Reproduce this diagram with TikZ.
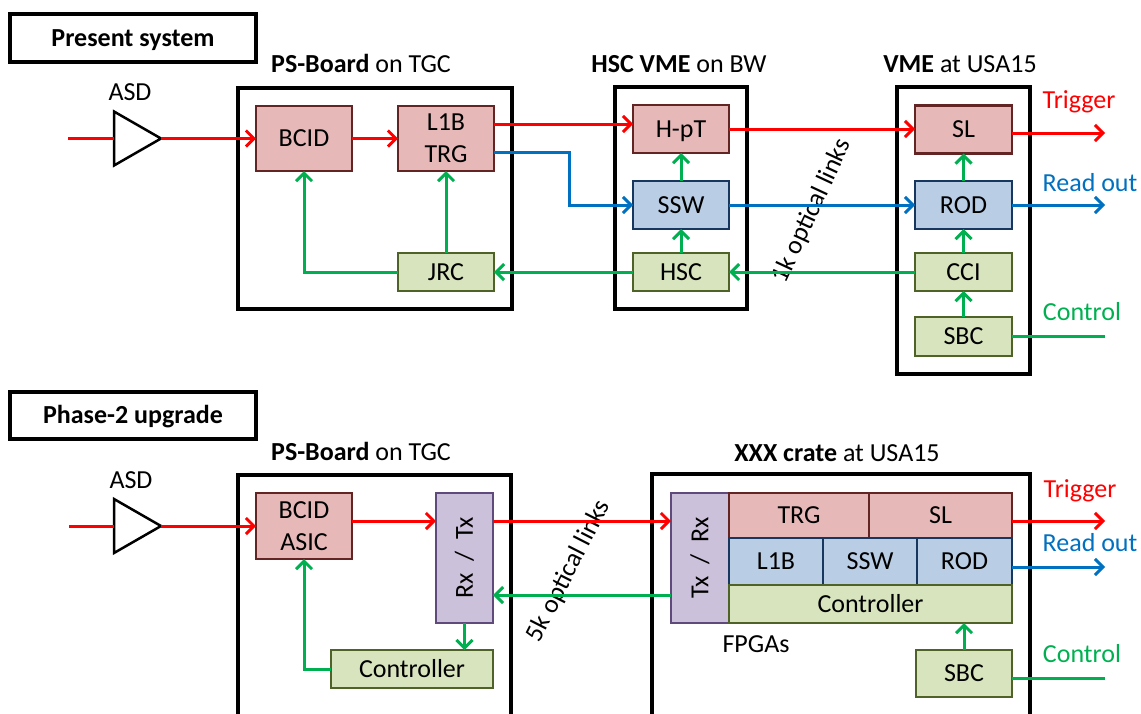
\documentclass[tikz,border=0pt]{standalone}
\usepackage{fontspec}
\setmainfont{Carlito}
\usepackage{graphicx}
\usetikzlibrary{arrows.meta,calc}
\definecolor{rfill}{HTML}{E6B9B8}
\definecolor{rdraw}{HTML}{632523}
\definecolor{bfill}{HTML}{B9CDE5}
\definecolor{bdraw}{HTML}{17375E}
\definecolor{gfill}{HTML}{D7E4BD}
\definecolor{gdraw}{HTML}{4F6228}
\definecolor{pfill}{HTML}{CCC1DA}
\definecolor{pdraw}{HTML}{604A7B}
\definecolor{lred}{HTML}{FF0000}
\definecolor{lblue}{HTML}{0070C0}
\definecolor{lgreen}{HTML}{00B050}
\begin{document}
\begin{tikzpicture}[x=1pt,y=-1pt,font=\fontsize{26}{31.7}\selectfont,
  blk/.style={draw,line width=2.6pt,inner sep=0pt,outer sep=0pt,align=center},
  tx/.style={text height=16.7pt,text depth=0pt},
  rbox/.style={blk,fill=rfill,draw=rdraw},
  bbox/.style={blk,fill=bfill,draw=bdraw},
  gbox/.style={blk,fill=gfill,draw=gdraw},
  pbox/.style={blk,fill=pfill,draw=pdraw},
  cont/.style={draw,line width=3.5pt,inner sep=0pt,outer sep=0pt},
  lbl/.style={anchor=base,inner sep=0pt},
  tri/.style={inner sep=0pt,outer sep=0pt,minimum width=47pt,minimum height=54pt},
  barb/.style={-{Straight Barb[length=8pt,width=16pt]}},
  rl/.style={draw=lred,line width=3pt},
  bl/.style={draw=lblue,line width=3pt},
  gl/.style={draw=lgreen,line width=3pt},
  ra/.style={rl,barb},
  ba/.style={bl,barb},
  ga/.style={gl,barb}]
\path[use as bounding box] (0,0) rectangle (1141,713);
\clip (0,0) rectangle (1141,713);

% ---------------- Present system ----------------
\node[cont,tx,minimum width=246,minimum height=48,font=\fontsize{26}{31.7}\selectfont\bfseries] (pres) at (133,38) {Present system};
\node[cont,minimum width=274,minimum height=221] (ps1) at (375,198.5) {};
\node[cont,minimum width=132,minimum height=222] (hscvme) at (681,198) {};
\node[cont,minimum width=133,minimum height=287] (vme) at (963.5,230.5) {};

\node[lbl] (ps1lbl) at (361,72) {\textbf{PS-Board} on TGC};
\node[lbl] (hsclbl) at (679,72) {\textbf{HSC VME} on BW};
\node[lbl] (vmelbl) at (960,72) {\textbf{VME} at USA15};
\node[lbl] (asdlbl1) at (130,100) {ASD};
\node[lbl,text=lred] (trig1) at (1079,108) {Trigger};
\node[lbl,text=lblue] (ro1) at (1090,191) {Read out};
\node[lbl,text=lgreen] (ctl1) at (1082,320) {Control};

\node[tri] (asd1) at (137.5,138.5) {};
\draw[line width=2.5pt,line join=miter] (asd1.north west) -- (asd1.east) -- (asd1.south west) -- cycle;

\node[rbox,tx,minimum width=96,minimum height=65] (bcid1) at (304,138.5) {BCID};
\node[rbox,minimum width=96,minimum height=65] (l1b1) at (446,138.5) {L1B\\TRG};
\node[gbox,tx,minimum width=96,minimum height=38] (jrc) at (446,272) {JRC};
\node[rbox,tx,minimum width=96,minimum height=48] (hpt) at (681,129) {H-pT};
\node[bbox,tx,minimum width=96,minimum height=48] (ssw1) at (681,205) {SSW};
\node[gbox,tx,minimum width=96,minimum height=38] (hsc) at (681,272) {HSC};
\node[rbox,tx,minimum width=97,minimum height=48] (sl1) at (963.5,129.5) {SL};
\node[bbox,tx,minimum width=97,minimum height=48] (rod1) at (963.5,205) {ROD};
\node[gbox,tx,minimum width=97,minimum height=38] (cci) at (963.5,272) {CCI};
\node[gbox,tx,minimum width=97,minimum height=39] (sbc1) at (963.5,336.5) {SBC};

\node[rotate=65] (ok1) at (812,211) {1k optical links};

\coordinate (in1) at (68,138.5);
\coordinate (trigend1) at (1105,133);
\coordinate (roend1) at (1105,205);
\coordinate (ctlend1) at (1105,336.5);

\draw[rl] (in1) -- (asd1.west);
\draw[ra] (asd1.east) -- (bcid1.west);
\draw[ra] (bcid1) -- (l1b1);
\draw[ra] ([yshift=14.5pt]l1b1.east) -- ([yshift=14.5pt]l1b1.east -| hpt.west);
\draw[ra] (hpt.east) -- (hpt.east -| sl1.west);
\draw[ra] (sl1.east |- trigend1) -- (trigend1);
\draw[ba] ([yshift=-13.5pt]l1b1.east) -- ++(75,0) |- (ssw1.west);
\draw[ba] (ssw1) -- (rod1);
\draw[ba] (rod1.east) -- (roend1);
\draw[ga] (jrc) -- (l1b1);
\draw[ga] (jrc.west) -| (bcid1.south);
\draw[ga] (hsc) -- (jrc);
\draw[ga] (cci) -- (hsc);
\draw[ga] (hsc) -- (ssw1);
\draw[ga] (ssw1) -- (hpt);
\draw[ga] (sbc1) -- (cci);
\draw[ga] (cci) -- (rod1);
\draw[ga] (rod1) -- (sl1);
\draw[gl] (sbc1.east) -- (ctlend1);

% ---------------- Phase-2 upgrade ----------------
\node[cont,tx,minimum width=246,minimum height=47,font=\fontsize{26}{31.7}\selectfont\bfseries] (phase) at (133,415.5) {Phase-2 upgrade};
\node[cont,minimum width=273,minimum height=260] (ps2) at (374.5,605) {};
\node[cont,minimum width=378,minimum height=260] (xxx) at (841,604) {};

\node[lbl] (ps2lbl) at (361,460) {\textbf{PS-Board} on TGC};
\node[lbl] (xxxlbl) at (837,461) {\textbf{XXX crate} at USA15};
\node[lbl] (asdlbl2) at (131,488) {ASD};
\node[lbl] (fpga) at (756,652) {FPGAs};
\node[lbl,text=lred] (trig2) at (1080,497) {Trigger};
\node[lbl,text=lblue] (ro2) at (1090,551) {Read out};
\node[lbl,text=lgreen] (ctl2) at (1082,662) {Control};

\node[tri] (asd2) at (137.5,526) {};
\draw[line width=2.5pt,line join=miter] (asd2.north west) -- (asd2.east) -- (asd2.south west) -- cycle;

\node[rbox,minimum width=96,minimum height=66] (bcid2) at (304,526) {BCID\\ASIC};
\node[pbox,minimum width=57,minimum height=130] (rxtx) at (464.5,558) {\rotatebox{90}{Rx~~/~~Tx}};
\node[gbox,tx,minimum width=162,minimum height=38] (ctrl2) at (412,669) {Controller};

\node[pbox,minimum width=58,minimum height=130] (txrx) at (700,558) {\rotatebox{90}{Tx~~/~~Rx}};
\node[rbox,tx,minimum width=140,minimum height=45] (trg2) at (799,515.5) {TRG};
\node[rbox,tx,minimum width=143,minimum height=45] (sl2) at (940.5,515.5) {SL};
\node[bbox,tx,minimum width=94,minimum height=47] (l1b2) at (776,561.5) {L1B};
\node[bbox,tx,minimum width=94,minimum height=47] (ssw2) at (870,561.5) {SSW};
\node[bbox,tx,minimum width=95,minimum height=47] (rod2) at (964.5,561.5) {ROD};
\node[gbox,tx,minimum width=283,minimum height=38] (ctrlx) at (870.5,604) {Controller};
\node[gbox,tx,minimum width=96,minimum height=47] (sbc2) at (964,673.5) {SBC};

\node[rotate=63] (ok2) at (569,571) {5k optical links};

\coordinate (in2) at (69,526);
\coordinate (trigend2) at (1105,521);
\coordinate (roend2) at (1105,567);
\coordinate (ctlend2) at (1105,678);

\draw[rl] (in2) -- (asd2.west);
\draw[ra] (asd2.east) -- (bcid2.west);
\draw[ra] ([yshift=5pt]bcid2.east) -- ([yshift=5pt]bcid2.east -| rxtx.west);
\draw[ra] ([yshift=37pt]rxtx.east) -- ([yshift=37pt]rxtx.east -| txrx.west);
\draw[ga] ([yshift=-37pt]txrx.west) -- ([yshift=-37pt]txrx.west -| rxtx.east);
\draw[ga] (rxtx.south) -- (rxtx.south |- ctrl2.north);
\draw[ga] (ctrl2.west) -| (bcid2.south);
\draw[ra] (sl2.east |- trigend2) -- (trigend2);
\draw[ba] (rod2.east |- roend2) -- (roend2);
\draw[ga] (sbc2.north) -- (sbc2.north |- ctrlx.south);
\draw[gl] (sbc2.east |- ctlend2) -- (ctlend2);
\end{tikzpicture}
\end{document}
